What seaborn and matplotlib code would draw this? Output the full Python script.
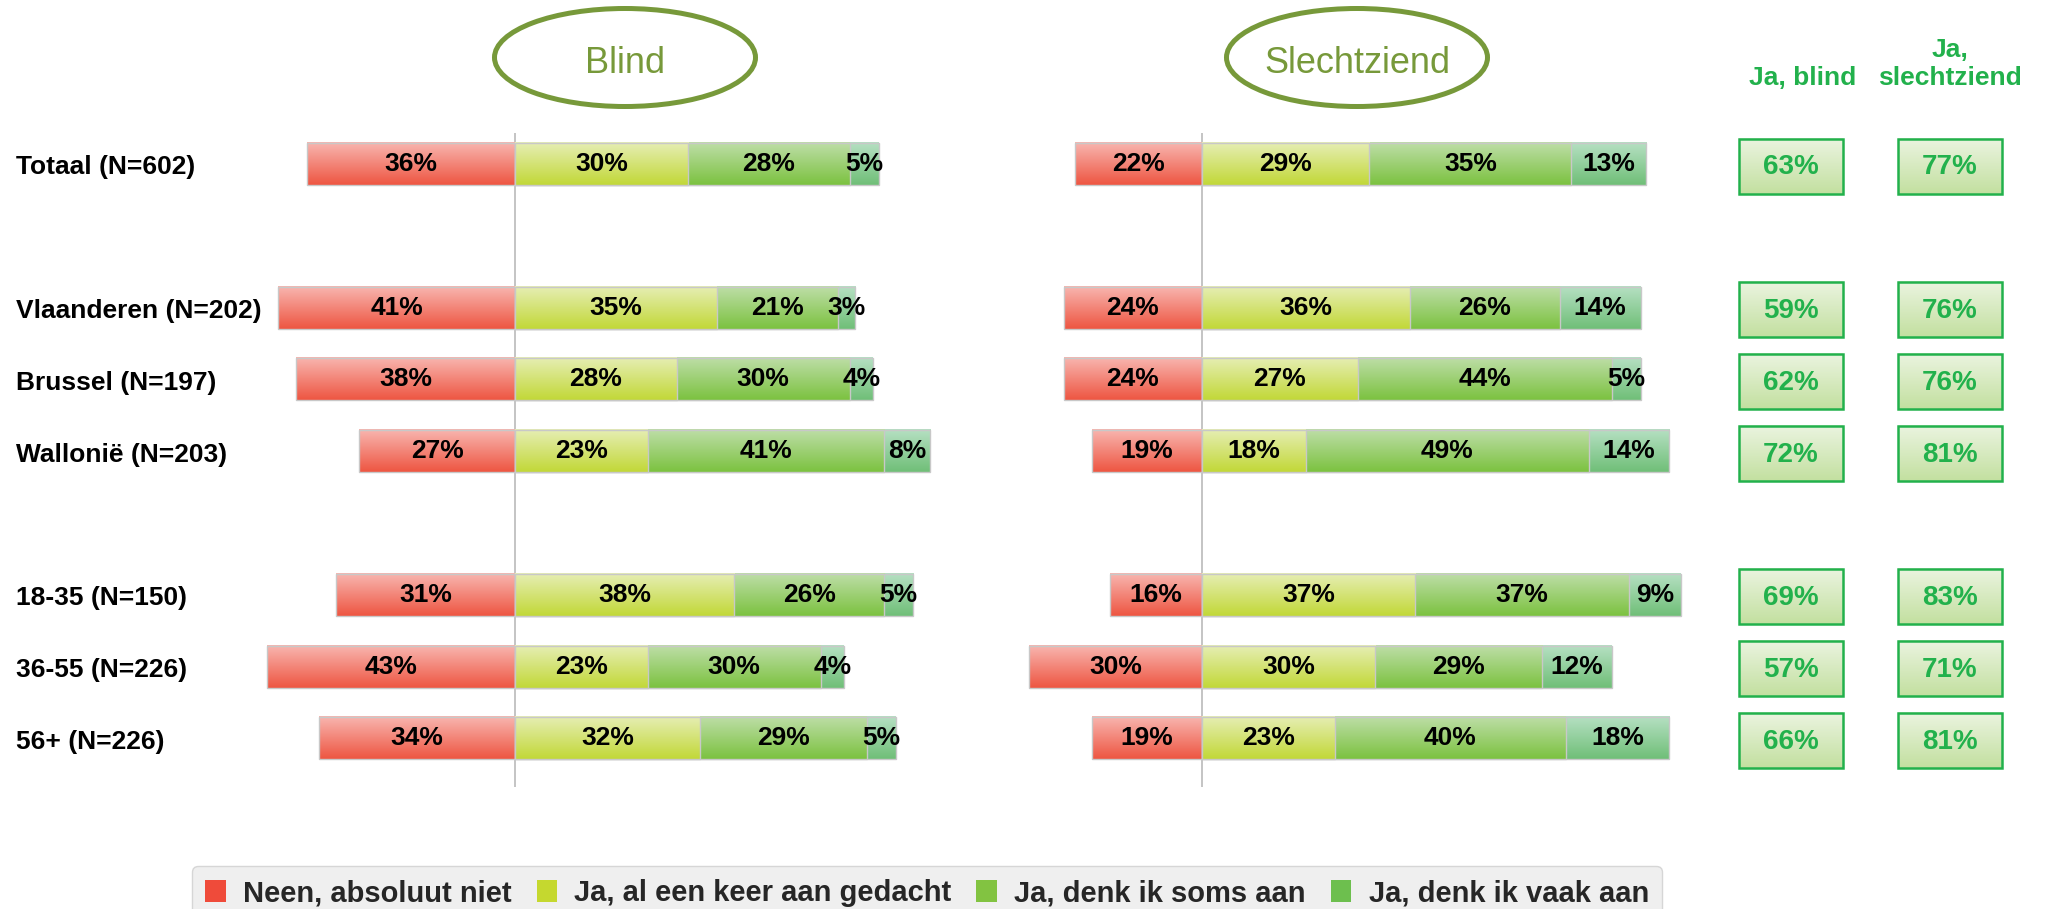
import numpy as np
import pandas as pd
import matplotlib
matplotlib.use("Agg")
import matplotlib.pyplot as plt
import matplotlib.transforms as mtrans
import seaborn as sns
from matplotlib.colors import LinearSegmentedColormap
from matplotlib.patches import Ellipse, Patch, Rectangle

# ---- data -------------------------------------------------------------
groups = ["Totaal (N=602)", "Vlaanderen (N=202)", "Brussel (N=197)", "Wallonië (N=203)",
          "18-35 (N=150)", "36-55 (N=226)", "56+ (N=226)"]
# empty slots between the three blocks
order = [groups[0], "_gap1", groups[1], groups[2], groups[3], "_gap2",
         groups[4], groups[5], groups[6]]

answers = ["Neen, absoluut niet", "Ja, al een keer aan gedacht",
           "Ja, denk ik soms aan", "Ja, denk ik vaak aan"]

blind_neen = [36, 41, 38, 27, 31, 43, 34]
blind_keer = [30, 35, 28, 23, 38, 23, 32]
blind_soms = [28, 21, 30, 41, 26, 30, 29]
blind_vaak = [5, 3, 4, 8, 5, 4, 5]

slecht_neen = [22, 24, 24, 19, 16, 30, 19]
slecht_keer = [29, 36, 27, 18, 37, 30, 23]
slecht_soms = [35, 26, 44, 49, 37, 29, 40]
slecht_vaak = [13, 14, 5, 14, 9, 12, 18]

ja_blind = [63, 59, 62, 72, 69, 57, 66]
ja_slecht = [77, 76, 76, 81, 83, 71, 81]

# ---- styling ------------------------------------------------------------
solid = ["#EF4B3A", "#C5D82F", "#82C341", "#6DBF4E"]
grads = [("#F8B6B0", "#EE5642"), ("#E6EEB4", "#C2D838"),
         ("#BEDEA8", "#7CC240"), ("#B6E0C3", "#70BF78")]
olive = "#77993A"
green_txt = "#22B14C"

W, H = 2045, 909
sns.set_style("white")
plt.rcParams["font.family"] = ["Liberation Sans", "DejaVu Sans"]

fig = plt.figure(figsize=(W / 100, H / 100), dpi=100)

ybot, ytop = 787, 133          # pixel rows of the plot area
slot_top, slot_bot = -0.43, 8.677
px_per_pct = 5.77


def add_axes_px(x0, x1):
    return fig.add_axes([x0 / W, 1 - ybot / H, (x1 - x0) / W, (ybot - ytop) / H])


def shade(ax, patch, cols, z):
    x0, y0 = patch.get_x(), patch.get_y()
    w, h = patch.get_width(), patch.get_height()
    cmap = LinearSegmentedColormap.from_list("g", list(cols))
    g = np.linspace(0, 1, 64).reshape(-1, 1)
    ax.imshow(g, cmap=cmap, aspect="auto", origin="upper",
              extent=(x0, x0 + w, y0 + h, y0), zorder=z, clip_path=patch)
    patch.set_facecolor("none")
    patch.set_zorder(z + 0.5)


def draw_panel(ax, neen, keer, soms, vaak, xmin, xmax):
    df = pd.DataFrame({"groep": groups, "neen": neen, "keer": keer,
                       "soms": soms, "vaak": vaak})
    df["neg"] = -df["neen"]
    df["c1"] = df["keer"]
    df["c2"] = df["keer"] + df["soms"]
    df["c3"] = df["c2"] + df["vaak"]

    ax.axvline(0, color="#BFBFBF", lw=1.3, zorder=0.5)
    z = 1
    for col, k in [("neg", 0), ("c3", 3), ("c2", 2), ("c1", 1)]:
        n0 = len(ax.patches)
        sns.barplot(data=df, x=col, y="groep", order=order, orient="h",
                    width=0.585, color=solid[k], saturation=1, errorbar=None,
                    edgecolor="#C8C8C8", linewidth=1.0, ax=ax)
        for p in ax.patches[n0:]:
            shade(ax, p, grads[k], z)
            z += 1

    for _, r in df.iterrows():
        y = order.index(r["groep"])
        centers = [-r["neen"] / 2, r["keer"] / 2, r["keer"] + r["soms"] / 2,
                   r["c2"] + r["vaak"] / 2]
        vals = [r["neen"], r["keer"], r["soms"], r["vaak"]]
        for cx, v in zip(centers, vals):
            ax.text(cx, y, f"{v}%", ha="center", va="center", fontsize=19,
                    fontweight="bold", color="black", zorder=z + 10)

    ax.set_xlim(xmin, xmax)
    ax.set_ylim(slot_bot, slot_top)
    ax.axis("off")


# Blind panel: zero line at x=515 px
bx0 = 515 - 48 * px_per_pct
ax_b = add_axes_px(bx0, bx0 + 126 * px_per_pct)
draw_panel(ax_b, blind_neen, blind_keer, blind_soms, blind_vaak, -48, 78)

# Slechtziend panel: zero line at x=1202 px
sx0 = 1202 - 35 * px_per_pct
ax_s = add_axes_px(sx0, sx0 + 120 * px_per_pct)
draw_panel(ax_s, slecht_neen, slecht_keer, slecht_soms, slecht_vaak, -35, 85)

# row labels
lab_tr = mtrans.blended_transform_factory(fig.transFigure, ax_b.transData)
for g in groups:
    ax_b.text(16 / W, order.index(g) + 0.05, g, transform=lab_tr, ha="left",
              va="center", fontsize=19, fontweight="bold", color="black")

# summary boxes on the right (x in pixels)
ax_k = add_axes_px(1700, 2045)
ax_k.axis("off")
box_cmap = LinearSegmentedColormap.from_list("box", ["#EBF4E0", "#C3E0A0"])
bw, bh = 104, 55 / 71.8
for cx, vals in [(1791, ja_blind), (1950, ja_slecht)]:
    for g, v in zip(groups, vals):
        y = order.index(g) + 0.03
        rect = Rectangle((cx - bw / 2, y - bh / 2), bw, bh, facecolor="none",
                         edgecolor=green_txt, lw=1.8, zorder=3)
        ax_k.add_patch(rect)
        ax_k.imshow(np.linspace(0, 1, 64).reshape(-1, 1), cmap=box_cmap,
                    aspect="auto", origin="upper",
                    extent=(cx - bw / 2, cx + bw / 2, y + bh / 2, y - bh / 2),
                    zorder=2, clip_path=rect)
        ax_k.text(cx, y + 0.02, f"{v}%", ha="center", va="center", fontsize=20,
                  fontweight="bold", color=green_txt, zorder=4)
ax_k.set_xlim(1700, 2045)
ax_k.set_ylim(slot_bot, slot_top)

# headers
for cx, name in [(625, "Blind"), (1357, "Slechtziend")]:
    fig.add_artist(Ellipse((cx / W, 1 - 57.5 / H), 261 / W, 98 / H,
                           transform=fig.transFigure, fill=False,
                           edgecolor=olive, lw=3.6))
    fig.text(cx / W, 1 - 73 / H, name, ha="center", va="baseline",
             fontsize=26, color=olive)

fig.text(1803 / W, 1 - 85 / H, "Ja, blind", ha="center", va="baseline",
         fontsize=19, fontweight="bold", color=green_txt)
fig.text(1950 / W, 1 - 85 / H, "Ja,\nslechtziend", ha="center", va="baseline",
         multialignment="center", linespacing=1.2, fontsize=19,
         fontweight="bold", color=green_txt)

# legend (box runs past the bottom edge, as in the original)
handles = [Patch(facecolor=c, edgecolor="none") for c in solid]
leg = fig.legend(handles, answers, loc="upper center",
                 bbox_to_anchor=(927 / W, 1 - 866 / H), ncol=4,
                 prop={"size": 21, "weight": "bold"}, handlelength=0.7,
                 handleheight=0.75, handletextpad=0.6, columnspacing=0.85,
                 borderpad=0.45, borderaxespad=0, fancybox=True, framealpha=1)
leg.get_frame().set_facecolor("#EFEFEF")
leg.get_frame().set_edgecolor("#D6D6D6")

fig.savefig("out.png", dpi=100)
